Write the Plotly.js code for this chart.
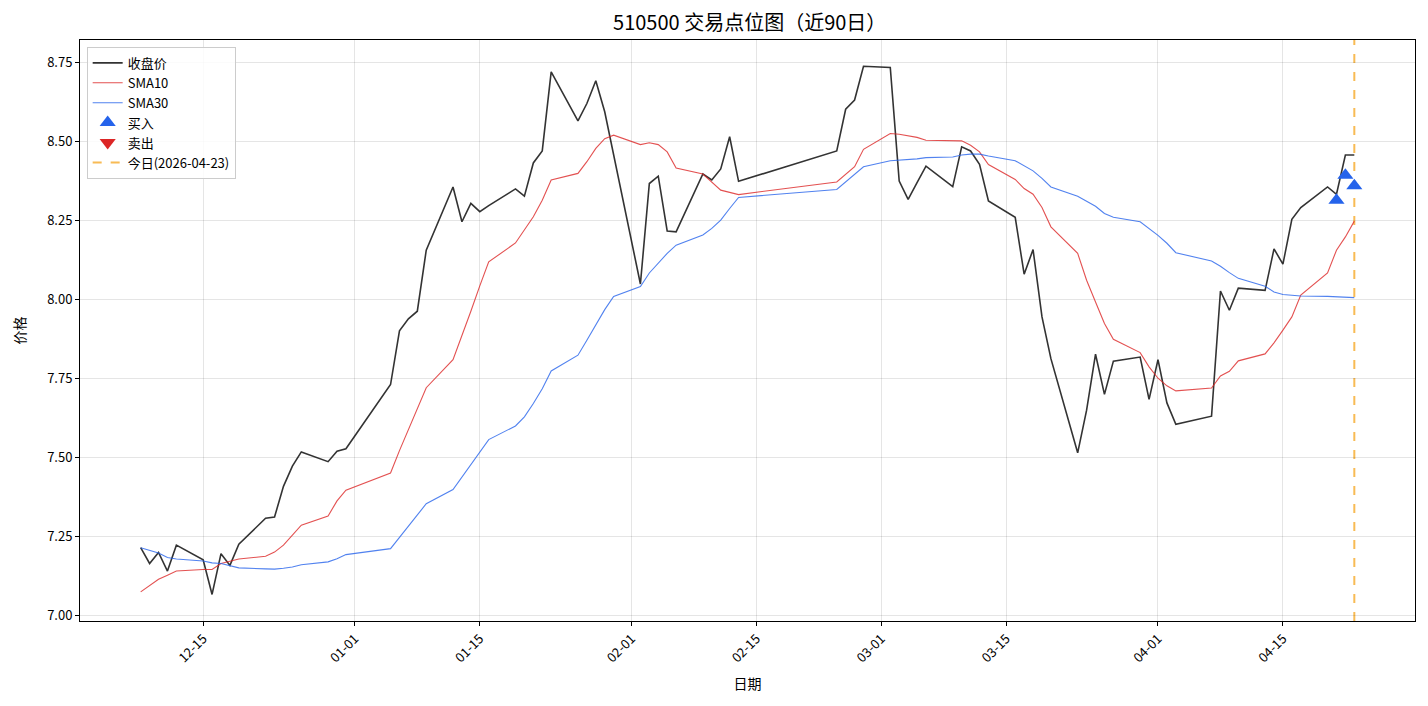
<!DOCTYPE html>
<html>
<head>
<meta charset="utf-8">
<script src="https://cdn.plot.ly/plotly-3.0.1.min.js"></script>
<style>
html,body{margin:0;padding:0;background:#fff;}
#chart{width:1428px;height:706px;}
</style>
</head>
<body>
<div id="chart"></div>
<script>
// ---- data ----
const dates = [
  '2025-12-08','2025-12-09','2025-12-10','2025-12-11','2025-12-12',
  '2025-12-15','2025-12-16','2025-12-17','2025-12-18','2025-12-19',
  '2025-12-22','2025-12-23','2025-12-24','2025-12-25','2025-12-26',
  '2025-12-29','2025-12-30','2025-12-31',
  '2026-01-05','2026-01-06','2026-01-07','2026-01-08','2026-01-09',
  '2026-01-12','2026-01-13','2026-01-14','2026-01-15','2026-01-16',
  '2026-01-19','2026-01-20','2026-01-21','2026-01-22','2026-01-23',
  '2026-01-26','2026-01-27','2026-01-28','2026-01-29','2026-01-30',
  '2026-02-02','2026-02-03','2026-02-04','2026-02-05','2026-02-06',
  '2026-02-09','2026-02-10','2026-02-11','2026-02-12','2026-02-13',
  '2026-02-24','2026-02-25','2026-02-26','2026-02-27',
  '2026-03-02','2026-03-03','2026-03-04','2026-03-05','2026-03-06',
  '2026-03-09','2026-03-10','2026-03-11','2026-03-12','2026-03-13',
  '2026-03-16','2026-03-17','2026-03-18','2026-03-19','2026-03-20',
  '2026-03-23','2026-03-24','2026-03-25','2026-03-26','2026-03-27',
  '2026-03-30','2026-03-31',
  '2026-04-01','2026-04-02','2026-04-03',
  '2026-04-07','2026-04-08','2026-04-09','2026-04-10',
  '2026-04-13','2026-04-14','2026-04-15','2026-04-16','2026-04-17',
  '2026-04-20','2026-04-21','2026-04-22','2026-04-23'
];

const closePrice = [
  7.214,7.164,7.199,7.140,7.222,
  7.176,7.066,7.195,7.158,7.225,
  7.307,7.311,7.408,7.472,7.517,
  7.486,7.519,7.527,
  7.730,7.900,7.938,7.962,8.155,
  8.355,8.245,8.303,8.277,8.296,
  8.349,8.326,8.431,8.469,8.719,
  8.564,8.619,8.691,8.593,8.454,
  8.048,8.366,8.389,8.216,8.213,
  8.396,8.377,8.412,8.514,8.373,
  8.469,8.601,8.630,8.737,
  8.733,8.374,8.316,8.369,8.421,
  8.356,8.482,8.469,8.427,8.311,
  8.259,8.079,8.157,7.944,7.812,
  7.514,7.649,7.826,7.699,7.804,
  7.817,7.683,
  7.809,7.672,7.604,
  7.630,8.026,7.965,8.035,
  8.028,8.159,8.111,8.253,8.290,
  8.355,8.332,8.456,8.456
];

const sma10 = [
  7.074,7.095,7.114,7.127,7.140,
  7.145,7.145,7.164,7.172,7.178,
  7.187,7.200,7.222,7.253,7.285,
  7.314,7.362,7.396,
  7.450,7.521,7.588,7.655,7.720,
  7.809,7.884,7.962,8.042,8.118,
  8.178,8.218,8.261,8.313,8.377,
  8.398,8.435,8.477,8.508,8.519,
  8.489,8.495,8.489,8.466,8.415,
  8.396,8.370,8.345,8.338,8.331,
  8.371,8.396,8.419,8.474,
  8.524,8.522,8.516,8.512,8.503,
  8.501,8.501,8.487,8.466,8.426,
  8.379,8.350,8.332,8.290,8.229,
  8.145,8.060,7.991,7.923,7.873,
  7.831,7.786,
  7.750,7.726,7.710,
  7.719,7.757,7.772,7.805,
  7.827,7.862,7.902,7.944,8.013,
  8.083,8.155,8.197,8.247
];

const sma30 = [
  7.214,7.206,7.197,7.183,7.178,
  7.172,7.166,7.164,7.158,7.150,
  7.147,7.146,7.149,7.153,7.160,
  7.169,7.179,7.192,
  7.211,7.246,7.282,7.318,7.353,
  7.398,7.437,7.477,7.517,7.556,
  7.599,7.628,7.670,7.717,7.773,
  7.823,7.870,7.920,7.967,8.009,
  8.040,8.083,8.115,8.145,8.171,
  8.203,8.224,8.250,8.287,8.322,
  8.347,8.371,8.396,8.419,
  8.438,8.440,8.440,8.444,8.448,
  8.450,8.456,8.459,8.459,8.453,
  8.438,8.421,8.406,8.382,8.355,
  8.326,8.311,8.294,8.271,8.259,
  8.245,8.224,
  8.202,8.177,8.147,
  8.121,8.104,8.084,8.066,
  8.041,8.023,8.015,8.013,8.010,
  8.009,8.008,8.007,8.005
];

const buyDates = ['2026-04-21','2026-04-22','2026-04-23'];
const buyPrices = [8.313, 8.392, 8.359];
const sellDates = [];
const sellPrices = [];

const todayDate = '2026-04-23';
const tickDates = ['2025-12-15','2026-01-01','2026-01-15','2026-02-01','2026-02-15',
                   '2026-03-01','2026-03-15','2026-04-01','2026-04-15'];
const yTicks = [7.00,7.25,7.50,7.75,8.00,8.25,8.50,8.75];

const FONT = '"Noto Sans CJK SC", "Noto Sans", sans-serif';

const traces = [
  {x: dates, y: closePrice, type: 'scatter', mode: 'lines', name: '收盘价',
   line: {color: 'rgba(0,0,0,0.8)', width: 1.6}},
  {x: dates, y: sma10, type: 'scatter', mode: 'lines', name: 'SMA10',
   line: {color: 'rgba(220,38,38,0.8)', width: 1.1}},
  {x: dates, y: sma30, type: 'scatter', mode: 'lines', name: 'SMA30',
   line: {color: 'rgba(37,99,235,0.8)', width: 1.1}},
  {x: buyDates, y: buyPrices, type: 'scatter', mode: 'markers', name: '买入',
   marker: {symbol: 'triangle-up', size: 14, color: '#2563eb'}},
  {x: sellDates.length ? sellDates : [null], y: sellPrices.length ? sellPrices : [null],
   type: 'scatter', mode: 'markers', name: '卖出',
   marker: {symbol: 'triangle-down', size: 14, color: '#dc2626'}},
  {x: [null], y: [null], type: 'scatter', mode: 'lines', name: '今日(' + todayDate + ')',
   line: {color: 'rgba(245,158,11,0.7)', width: 2, dash: 'dash'}}
];

const layout = {
  width: 1428, height: 706,
  paper_bgcolor: '#ffffff', plot_bgcolor: '#ffffff',
  font: {family: FONT, size: 13, color: '#000'},
  margin: {l: 80, r: 13, t: 40, b: 85},
  title: {text: '510500 交易点位图（近90日）', x: 0.525, xanchor: 'center', y: 0.968, yanchor: 'middle',
          font: {family: FONT, size: 20, color: '#000'}},
  showlegend: true,
  legend: {x: 0.005, y: 0.988, xanchor: 'left', yanchor: 'top',
           bgcolor: 'rgba(255,255,255,0.85)', bordercolor: '#cccccc', borderwidth: 1,
           font: {family: FONT, size: 13, color: '#000'}, tracegroupgap: 0, itemwidth: 30},
  xaxis: {
    type: 'date',
    range: ['2025-12-01 04:48', '2026-04-29 19:12'],
    tickvals: tickDates, tickformat: '%m-%d', tickangle: -45,
    showgrid: true, gridcolor: 'rgba(0,0,0,0.1)', gridwidth: 1,
    showline: true, linecolor: '#000', linewidth: 1, mirror: true,
    ticks: 'outside', ticklen: 4, tickcolor: '#000',
    zeroline: false,
    tickfont: {family: FONT, size: 13, color: '#000'},
    title: {text: '日期', font: {family: FONT, size: 14, color: '#000'}, standoff: 14}
  },
  yaxis: {
    range: [6.982, 8.820],
    tickvals: yTicks, tickformat: '.2f',
    showgrid: true, gridcolor: 'rgba(0,0,0,0.1)', gridwidth: 1,
    showline: true, linecolor: '#000', linewidth: 1, mirror: true,
    ticks: 'outside', ticklen: 4, tickcolor: '#000',
    zeroline: false,
    tickfont: {family: FONT, size: 13, color: '#000'},
    title: {text: '价格', font: {family: FONT, size: 14, color: '#000'}, standoff: 18}
  },
  shapes: [
    {type: 'line', xref: 'x', yref: 'paper', x0: todayDate, x1: todayDate, y0: 0, y1: 1,
     layer: 'below',
     line: {color: 'rgba(245,158,11,0.7)', width: 2, dash: 'dash'}}
  ]
};

Plotly.newPlot('chart', traces, layout, {displayModeBar: false, staticPlot: true});
</script>
</body>
</html>
